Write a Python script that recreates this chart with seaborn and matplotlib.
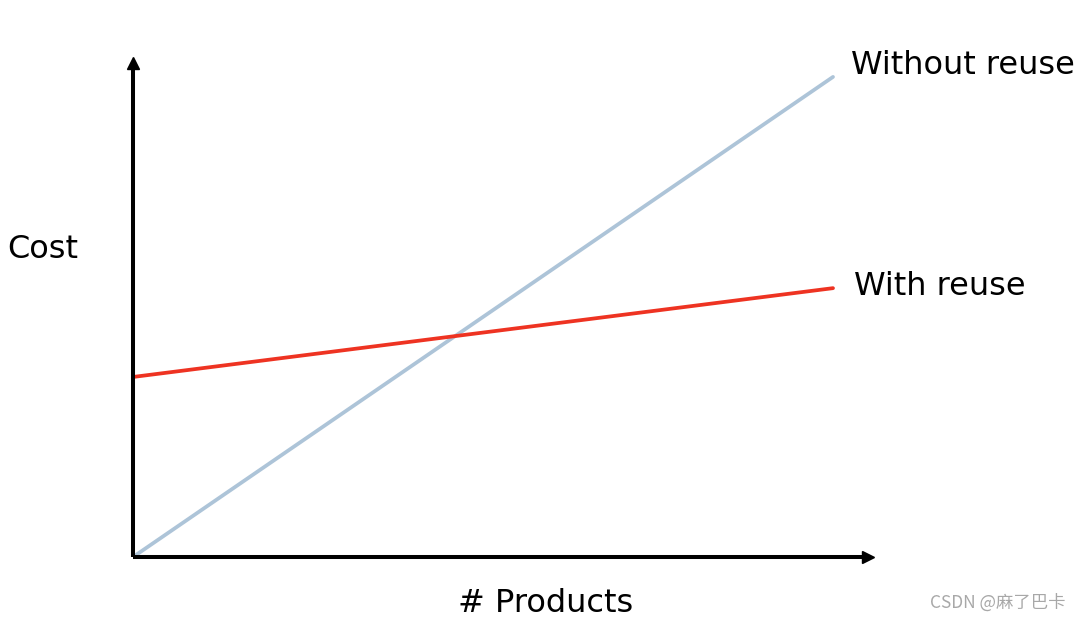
import pandas as pd
import numpy as np
import seaborn as sns
import matplotlib.pyplot as plt

# Data (abstract units)
products = [0, 10]
cost_without_reuse = [0, 10]
cost_with_reuse = [3.75, 5.6]
series_names = ['Without reuse', 'With reuse']

df = pd.DataFrame({
    'products': products * 2,
    'cost': cost_without_reuse + cost_with_reuse,
    'series': [series_names[0]] * 2 + [series_names[1]] * 2,
})

sns.set_style('white')
plt.rcParams['font.family'] = ['DejaVu Sans', 'Noto Sans CJK SC']
plt.rcParams['text.color'] = 'black'

fig = plt.figure(figsize=(10.8, 6.21), dpi=100)
# axes from the origin (133, 557) to the arrow heads
ax = fig.add_axes([133 / 1080, 64 / 621, 735 / 1080, 494 / 621])

sns.lineplot(data=df, x='products', y='cost', hue='series',
             palette={'Without reuse': '#adc4d8', 'With reuse': '#ee3322'},
             linewidth=2.7, legend=False, ax=ax)

ax.set_xlim(0, 10.5)
ax.set_ylim(0, 10.29)
ax.set_xticks([])
ax.set_yticks([])
ax.set_xlabel('')
ax.set_ylabel('')
for s in ['top', 'right']:
    ax.spines[s].set_visible(False)
for s in ['left', 'bottom']:
    ax.spines[s].set_linewidth(2.9)
    ax.spines[s].set_color('black')
    ax.spines[s].set_capstyle('butt')

# arrow heads at the ends of the axes
ax.plot(1, 0, '>', color='black', markersize=9, transform=ax.transAxes, clip_on=False)
ax.plot(0, 1, '^', color='black', markersize=9, transform=ax.transAxes, clip_on=False)

# line labels
ax.text(products[-1] + 0.26, cost_without_reuse[-1] + 0.24, series_names[0],
        fontsize=23, va='center', ha='left', clip_on=False)
ax.text(products[-1] + 0.3, cost_with_reuse[-1] + 0.03, series_names[1],
        fontsize=23, va='center', ha='left', clip_on=False)

fig.text(7 / 1080, 1 - 249 / 621, 'Cost', fontsize=23, va='center', ha='left')
fig.text(546 / 1080, 1 - 603 / 621, '# Products', fontsize=23, va='center', ha='center')

fig.text(1065 / 1080, 1 - 603 / 621, 'CSDN @麻了巴卡', fontsize=12.5, color='#a8a8a8',
         va='center', ha='right', family=['Noto Sans CJK SC', 'DejaVu Sans'])

fig.savefig('out.png', dpi=100)
